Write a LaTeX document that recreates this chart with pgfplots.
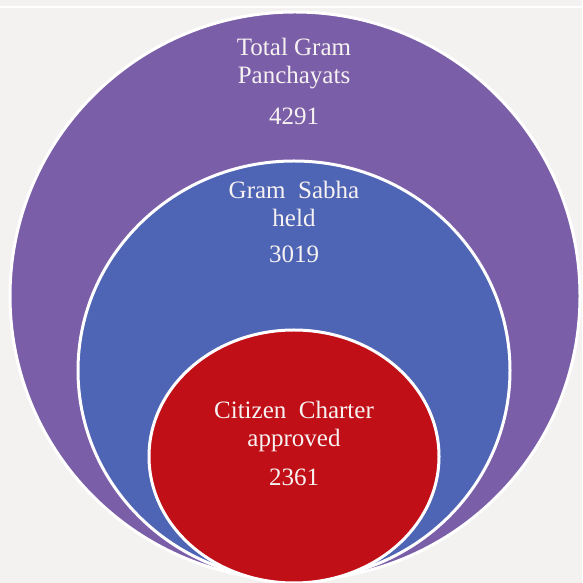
\documentclass[border=0pt]{standalone}
\usepackage{pgfplots}
\pgfplotsset{compat=1.18}
\usepackage{fontspec}
\setmainfont{Liberation Serif}
\definecolor{bgc}{HTML}{F3F2F0}
\definecolor{cpurple}{HTML}{7A5EA8}
\definecolor{cblue}{HTML}{4E64B4}
\definecolor{cred}{HTML}{C00F16}
\definecolor{txt}{HTML}{F7F2F2}
\tikzset{lab/.style={text=txt,align=center,inner sep=0pt,font=\fontsize{25}{28}\selectfont}}
\begin{document}
\begin{tikzpicture}
\begin{axis}[x=1pt,y=1pt,xmin=0,xmax=582,ymin=0,ymax=583,hide axis,clip=true]
\fill[bgc] (axis cs:0,0) rectangle (axis cs:582,583);
\draw[white, line width=1.5pt] (axis cs:0,576) -- (axis cs:582,576);
% Total Gram Panchayats 4291
\filldraw[fill=cpurple, draw=white, line width=3pt] (axis cs:295,287) ellipse [x radius=285, y radius=284];
% Gram Sabha held 3019
\filldraw[fill=cblue, draw=white, line width=3pt] (axis cs:294,212.5) ellipse [x radius=216, y radius=209.5];
% Citizen Charter approved 2361
\filldraw[fill=cred, draw=white, line width=3pt] (axis cs:294,126.5) ellipse [x radius=145, y radius=126.5];
\node[lab] at (axis cs:294,519) {Total Gram\\Panchayats};
\node[lab] at (axis cs:294,467) {4291};
\node[lab] at (axis cs:294,379) {Gram\ \ Sabha\\held};
\node[lab] at (axis cs:294,329) {3019};
\node[lab] at (axis cs:294,157) {Citizen\ \ Charter\\approved};
\node[lab] at (axis cs:294,106) {2361};
\end{axis}
\end{tikzpicture}
\end{document}
